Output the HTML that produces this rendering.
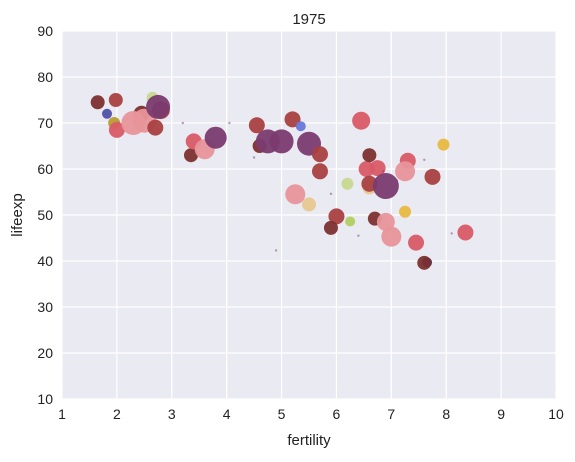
<!DOCTYPE html>
<html><head><meta charset="utf-8">
<style>
body{margin:0;background:#fff;font-family:"Liberation Sans",sans-serif;}
svg text{font-family:"Liberation Sans",sans-serif;fill:#222;}
</style></head>
<body>
<svg id="chart" width="575" height="457" xmlns="http://www.w3.org/2000/svg">
<rect x="62" y="31" width="494" height="368" fill="#eaeaf2"/>
<g id="grid"></g>
<g id="points"></g>
<g id="ticks"></g>
<text x="309" y="24" text-anchor="middle" font-size="15">1975</text>
<text x="309" y="445" text-anchor="middle" font-size="15">fertility</text>
<text x="22" y="215" text-anchor="middle" font-size="15" transform="rotate(-90 22 215)">lifeexp</text>
</svg>
<script>
const xTicks=[1,2,3,4,5,6,7,8,9,10];
const yTicks=[10,20,30,40,50,60,70,80,90];
const palette=["#7d3030","#a94040","#d95a66","#e8959a","#7a3b6f","#5050a8","#6878d8","#c9d890","#b0d060","#e8c890","#e8b840","#b89c30","#2a2a80"];
const fert=[1.95,1.65,1.98,1.82,2.0,2.45,2.3,2.5,2.65,2.8,2.7,2.75,3.35,3.4,3.6,3.8,4.55,4.6,5.2,5.35,4.75,5.0,5.5,5.7,5.7,5.25,5.5,6.45,6.2,6.25,6.0,5.9,6.6,6.55,6.75,6.6,6.6,6.9,6.7,6.9,7.0,7.3,7.25,7.25,7.45,7.65,7.6,7.75,7.95,8.35,3.2,4.05,4.5,4.9,5.9,6.4,7.1,7.6,8.1,6.85];
const life=[70,74.5,75,72,68.5,72,70,70.5,75.5,72.8,69,73.5,63,66,64.3,66.8,69.5,65,70.8,69.3,66,66,65.5,63.2,59.5,54.5,52.3,70.5,56.8,48.6,49.7,47.2,56,60,60.2,56.8,63,56.3,49.2,48.5,45.3,61.8,59.5,50.7,44,39.7,39.6,58.3,65.3,46.2,70,70,62.5,42.3,54.6,45.5,57.5,62,46,59.5];
const size=[6,7,7,5,8,8,12,12,6,9,8,12,7,8,10,11,8,7,8,5,12,12,12,8,8,10,7,9,6,5,8,7,7,8,8,8,7,13,7,9,10,8,10,6,8,5,7,8,6,8,1.2,1.2,1.2,1.2,1.2,1.2,1.2,1.2,1.2,1.2];
const cat=[11,0,1,5,2,0,3,3,7,1,1,4,0,2,3,4,1,0,1,6,4,4,4,1,1,3,9,2,7,8,1,0,9,2,2,1,0,4,0,3,3,2,3,10,2,12,0,1,10,2,4,4,4,4,4,4,4,4,4,4];
const X=v=>62+(v-1)/9*494, Y=v=>31+(90-v)/80*368;
const NS="http://www.w3.org/2000/svg";
const grid=document.getElementById('grid'),ticks=document.getElementById('ticks'),pts=document.getElementById('points');
xTicks.forEach(t=>{
 const l=document.createElementNS(NS,'line');
 l.setAttribute('x1',X(t));l.setAttribute('x2',X(t));l.setAttribute('y1',31);l.setAttribute('y2',399);
 l.setAttribute('stroke','#fff');l.setAttribute('stroke-width','1.2');
 
 
 grid.appendChild(l);
 const tx=document.createElementNS(NS,'text');
 tx.setAttribute('x',X(t));tx.setAttribute('y',419);tx.setAttribute('text-anchor','middle');tx.setAttribute('font-size','14');
 tx.textContent=t;
 
 
 ticks.appendChild(tx);
});
yTicks.forEach(t=>{
 const l=document.createElementNS(NS,'line');
 l.setAttribute('y1',Y(t));l.setAttribute('y2',Y(t));l.setAttribute('x1',62);l.setAttribute('x2',556);
 l.setAttribute('stroke','#fff');l.setAttribute('stroke-width','1.2');
 
 
 grid.appendChild(l);
 const tx=document.createElementNS(NS,'text');
 tx.setAttribute('x',53);tx.setAttribute('y',Y(t)+5);tx.setAttribute('text-anchor','end');tx.setAttribute('font-size','14');
 tx.textContent=t;
 
 
 ticks.appendChild(tx);
});
fert.forEach((f,i)=>{
 const c=document.createElementNS(NS,'circle');
 c.setAttribute('cx',X(f));c.setAttribute('cy',Y(life[i]));c.setAttribute('r',size[i]);
 c.setAttribute('fill',palette[cat[i]]);
 c.setAttribute('fill-opacity',size[i]<2?'0.5':'0.95');
 
 
 pts.appendChild(c);
});
</script>
</body></html>
